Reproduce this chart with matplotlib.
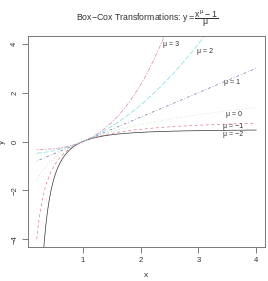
import matplotlib
matplotlib.use("Agg")
import matplotlib.pyplot as plt
import numpy as np

plt.rcParams['font.family'] = ['Liberation Sans', 'DejaVu Sans']
plt.rcParams['mathtext.fontset'] = 'custom'
plt.rcParams['mathtext.rm'] = 'Liberation Sans'
plt.rcParams['mathtext.it'] = 'Liberation Sans'

# Box-Cox parameters and the x range of the curves
mus = [-2, -1, 0, 1, 2, 3]
x_start, x_end = 0.2, 4.0
colors = ["#333333", "#E0788A", "#A8DC9C", "#6A76A8", "#7ADCE0", "#D486B8"]
dashes = [None, (4, 4), (1, 3), (1, 3, 4, 3), (7, 3), (2, 2, 6, 2)]

# label anchors (data coords)
label_x = [3.43, 3.43, 3.47, 3.45, 2.97, 2.38]
label_y = [0.30, 0.60, 1.10, 2.40, 3.67, 3.96]

x = np.linspace(x_start, x_end, 400)

fig = plt.figure(figsize=(2.68, 2.81), dpi=100)
ax = fig.add_axes([28 / 268, 34 / 281, 237 / 268, 211 / 281])

for mu, c, d, lx, ly in zip(mus, colors, dashes, label_x, label_y):
    y = np.log(x) if mu == 0 else (x ** mu - 1) / mu
    line, = ax.plot(x, y, color=c, lw=0.5)
    if d is not None:
        line.set_dashes(d)
    ax.text(lx, ly, f"\u03bc = {mu}".replace("-", "\u2212"), fontsize=5,
            ha='left', va='center', color='#333333')

ax.set_xlim(x_start - 0.04 * (x_end - x_start), x_end + 0.04 * (x_end - x_start))
ax.set_ylim(-4.32, 4.32)
ax.set_xticks([1, 2, 3, 4])
ax.set_yticks([-4, -2, 0, 2, 4])
ax.set_yticklabels(["\u22124", "\u22122", "0", "2", "4"], rotation=90, va='center')
ax.tick_params(labelsize=5.5, length=4, width=0.6, color='#666666',
               labelcolor='#333333', pad=3)
for s in ax.spines.values():
    s.set_color('#777777')
    s.set_linewidth(0.7)

ax.set_xlabel("x", fontsize=6, color='#333333', labelpad=6)
ax.set_ylabel("y", fontsize=6, color='#333333', labelpad=4)
fig.text(0.55, 0.935, r"Box$-$Cox Transformations: $y = \dfrac{x^{\mu} - 1}{\mu}$",
         ha='center', va='center', fontsize=6.3, color='#333333')

fig.savefig("out.png", dpi=100)
